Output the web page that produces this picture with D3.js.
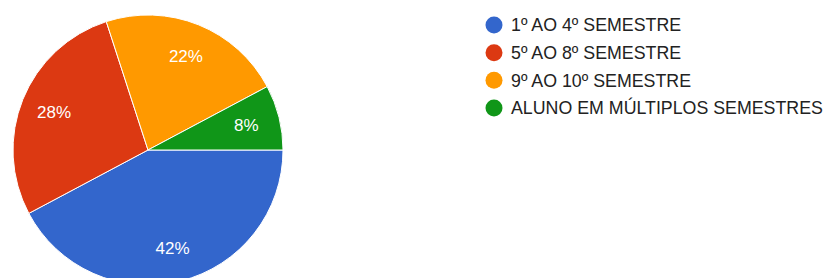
<!DOCTYPE html>
<html>
<head>
<meta charset="utf-8">
<script src="https://cdn.jsdelivr.net/npm/d3@7"></script>
<style>
  body { margin: 0; background: #fff; }
  svg { display: block; font-family: Arial, "Liberation Sans", sans-serif; }
</style>
</head>
<body>
<div id="chart"></div>
<script>
const categories = ['1º AO 4º SEMESTRE', '5º AO 8º SEMESTRE', '9º AO 10º SEMESTRE', 'ALUNO EM MÚLTIPLOS SEMESTRES'];
const counts = [38, 25, 20, 7];
const colors = ['#3366cc', '#dc3912', '#ff9900', '#109618'];

const width = 824, height = 278;
const cx = 148, cy = 150, radius = 135;

const data = categories.map((c, i) => ({ category: c, value: counts[i] }));
const total = d3.sum(counts);

const svg = d3.select('#chart').append('svg')
  .attr('width', width)
  .attr('height', height);

const g = svg.append('g').attr('transform', `translate(${cx},${cy})`);

// google charts start at 3 o'clock here and run clockwise
const pie = d3.pie().value(d => d.value).sort(null)
  .startAngle(Math.PI / 2).endAngle(Math.PI / 2 + 2 * Math.PI);

const arc = d3.arc().innerRadius(0).outerRadius(radius);
const labelArc = d3.arc().innerRadius(radius * 0.75).outerRadius(radius * 0.75);

const arcs = g.selectAll('.arc')
  .data(pie(data))
  .enter().append('g')
  .attr('class', 'arc');

arcs.append('path')
  .attr('d', arc)
  .attr('fill', (d, i) => colors[i])
  .attr('stroke', 'white')
  .attr('stroke-width', 1);

arcs.append('text')
  .attr('transform', d => `translate(${labelArc.centroid(d)})`)
  .attr('dy', '0.35em')
  .attr('text-anchor', 'middle')
  .style('font-size', '17px')
  .style('fill', 'white')
  .text(d => `${Math.round(d.data.value / total * 100)}%`);

// legend
const legendY = d3.scalePoint().domain(categories).range([25, 108]);

const legend = svg.append('g').attr('class', 'legend');
const items = legend.selectAll('.legend-item')
  .data(data)
  .enter().append('g')
  .attr('class', 'legend-item')
  .attr('transform', d => `translate(494, ${legendY(d.category)})`);

items.append('circle')
  .attr('r', 8.5)
  .attr('fill', (d, i) => colors[i]);

items.append('text')
  .attr('x', 17)
  .attr('dy', '0.35em')
  .style('font-size', '17.8px')
  .style('fill', '#222')
  .text(d => d.category);
</script>
</body>
</html>
